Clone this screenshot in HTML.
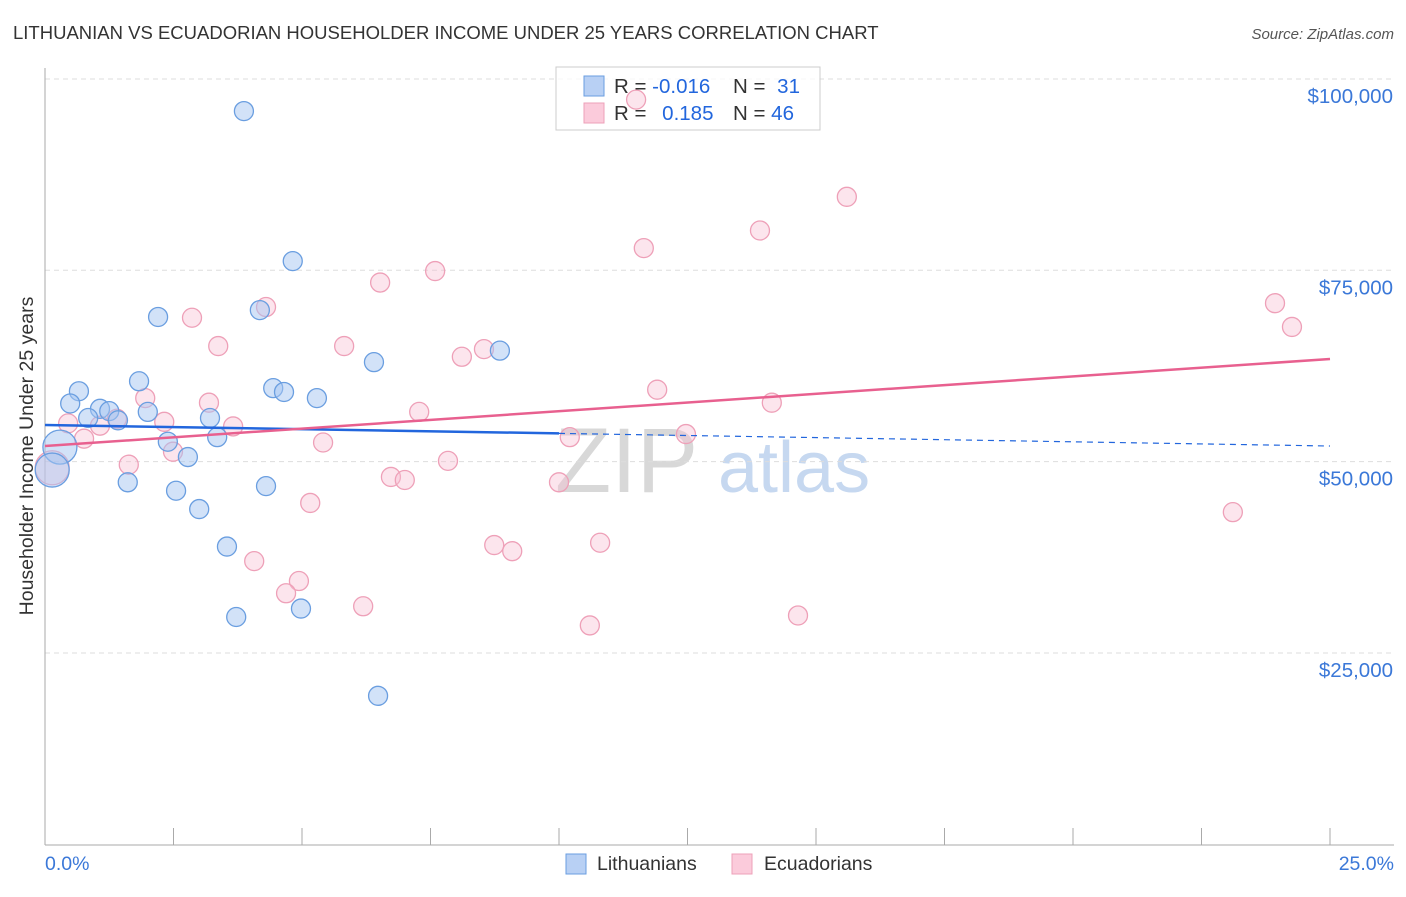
<!DOCTYPE html>
<html><head><meta charset="utf-8"><style>
body{margin:0;background:#fff;font-family:"Liberation Sans",sans-serif;}
svg text{font-family:"Liberation Sans",sans-serif;}
</style></head><body>
<svg id="chart" width="1406" height="892" xmlns="http://www.w3.org/2000/svg">
<text x="13" y="39" font-size="18.5" fill="#333">LITHUANIAN VS ECUADORIAN HOUSEHOLDER INCOME UNDER 25 YEARS CORRELATION CHART</text>
<text x="1394" y="39" font-size="15" fill="#555" font-style="italic" text-anchor="end">Source: ZipAtlas.com</text>
<text x="33" y="456" font-size="19.5" fill="#333" text-anchor="middle" transform="rotate(-90 33 456)">Householder Income Under 25 years</text>
<g>
<text x="555" y="492" font-size="92" fill="#d8d8d8" font-family="Liberation Serif">ZIP</text>
<text x="718" y="492" font-size="72" fill="#c6d8f0">atlas</text>
</g>
<g id="grid"></g><g id="axes"></g>
<g>
<rect x="556" y="67" width="264" height="63" fill="#fff" fill-opacity="0.75" stroke="#ccc"/>
<rect x="584" y="76" width="20" height="20" fill="#b8d0f4" stroke="#6a9ee0"/>
<rect x="584" y="103" width="20" height="20" fill="#fbcbdb" stroke="#eea0b8"/>
<text x="614" y="93" font-size="20.5" fill="#333">R = <tspan fill="#2266dd">-0.016</tspan></text>
<text x="733" y="93" font-size="20.5" fill="#333">N = <tspan fill="#2266dd" dx="6">31</tspan></text>
<text x="614" y="120" font-size="20.5" fill="#333">R = <tspan fill="#2266dd" dx="10">0.185</tspan></text>
<text x="733" y="120" font-size="20.5" fill="#333">N = <tspan fill="#2266dd">46</tspan></text>
</g>
<g id="marks"></g>
<g>
<rect x="566" y="854" width="20" height="20" fill="#b8d0f4" stroke="#6a9ee0"/>
<text x="597" y="870" font-size="19.5" fill="#333">Lithuanians</text>
<rect x="732" y="854" width="20" height="20" fill="#fbcbdb" stroke="#eea0b8"/>
<text x="764" y="870" font-size="19.5" fill="#333">Ecuadorians</text>
</g>
</svg>
<script>
const yTicks=[25000,50000,75000,100000];
const yTickLabels=["$25,000","$50,000","$75,000","$100,000"];
const xEndLabels=["0.0%","25.0%"];
const blueX=[3.87,4.82,2.20,4.18,6.40,8.85,1.83,0.66,0.49,4.44,4.65,5.29,1.07,1.25,1.42,2.00,3.21,0.84,0.29,3.35,2.39,2.78,1.61,2.55,4.30,3.00,3.54,4.98,3.72,6.48,0.14];
const blueY=[95800,76200,68900,69800,63000,64500,60500,59200,57600,59600,59100,58300,56900,56600,55400,56500,55700,55700,51900,53200,52600,50600,47300,46200,46800,43800,38900,30800,29700,19400,48900];
const blueBig=[18,30];
const pinkX=[11.50,15.60,13.91,11.65,7.59,6.52,4.30,2.86,23.93,24.26,3.37,5.82,8.11,8.54,11.91,14.14,1.95,3.19,7.28,2.32,0.45,1.07,3.66,0.76,10.21,12.47,5.41,2.49,7.84,1.63,6.73,7.00,10.00,0.14,5.16,23.11,8.74,9.09,10.80,4.07,4.94,4.69,6.19,10.60,14.65,1.40];
const pinkY=[97300,84600,80200,77900,74900,73400,70200,68800,70700,67600,65100,65100,63700,64700,59400,57700,58300,57700,56500,55200,55000,54700,54600,53000,53200,53600,52500,51300,50100,49600,48000,47600,47300,49200,44600,43400,39100,38300,39400,37000,34400,32800,31100,28600,29900,55600];
const pinkBig=[33];
const blueTrend=[54790,52040];
const pinkTrend=[52040,63410];
const blueSolidEnd=10;
const NS="http://www.w3.org/2000/svg";
const sx=v=>45+v/25*1285;
const sy=v=>844.3-v/75000*574;
function mk(tag,attrs,parent){const e=document.createElementNS(NS,tag);for(const k in attrs)e.setAttribute(k,attrs[k]);parent.appendChild(e);return e;}
const grid=document.getElementById('grid'),axes=document.getElementById('axes'),marks=document.getElementById('marks');
yTicks.forEach((t,i)=>{
 const l=mk('line',{x1:45,x2:1394,y1:sy(t),y2:sy(t),stroke:'#ddd','stroke-dasharray':'5,4'},grid);
 
 
 const tx=mk('text',{x:1393,y:sy(t)+24,'font-size':20.5,fill:'#3b78d8','text-anchor':'end'},axes);
 tx.textContent=yTickLabels[i];
 
 
});
const ax=mk('line',{x1:45,x2:1394,y1:845,y2:845,stroke:'#aaa'},axes);


const ay=mk('line',{x1:45,x2:45,y1:68,y2:845,stroke:'#aaa'},axes);


for(let i=1;i<=10;i++){
 const t=mk('line',{x1:sx(i*2.5),x2:sx(i*2.5),y1:828,y2:845,stroke:'#aaa'},axes);
 
 
}
const xl0=mk('text',{x:45,y:870,'font-size':19.5,fill:'#3b78d8'},axes);xl0.textContent=xEndLabels[0];


const xl1=mk('text',{x:1394,y:870,'font-size':19.5,fill:'#3b78d8','text-anchor':'end'},axes);xl1.textContent=xEndLabels[1];


pinkX.forEach((x,i)=>{
 const c=mk('circle',{cx:sx(x),cy:sy(pinkY[i]),r:pinkBig.includes(i)?17:9.5,fill:'rgba(248,190,210,0.4)',stroke:'#eea0b8','stroke-width':1.3},marks);
 
 
});
blueX.forEach((x,i)=>{
 const c=mk('circle',{cx:sx(x),cy:sy(blueY[i]),r:blueBig.includes(i)?17:9.5,fill:'rgba(165,198,242,0.5)',stroke:'#6a9ee0','stroke-width':1.3},marks);
 
 
});
const bAt=x=>blueTrend[0]+(blueTrend[1]-blueTrend[0])*x/25;
const bl=mk('line',{x1:sx(0),y1:sy(bAt(0)),x2:sx(blueSolidEnd),y2:sy(bAt(blueSolidEnd)),stroke:'#2266dd','stroke-width':2.5},marks);


const bd=mk('line',{x1:sx(blueSolidEnd),y1:sy(bAt(blueSolidEnd)),x2:sx(25),y2:sy(bAt(25)),stroke:'#2266dd','stroke-width':1.2,'stroke-dasharray':'6,5'},marks);


const pl=mk('line',{x1:sx(0),y1:sy(pinkTrend[0]),x2:sx(25),y2:sy(pinkTrend[1]),stroke:'#e8608f','stroke-width':2.5},marks);


</script>
</body></html>
